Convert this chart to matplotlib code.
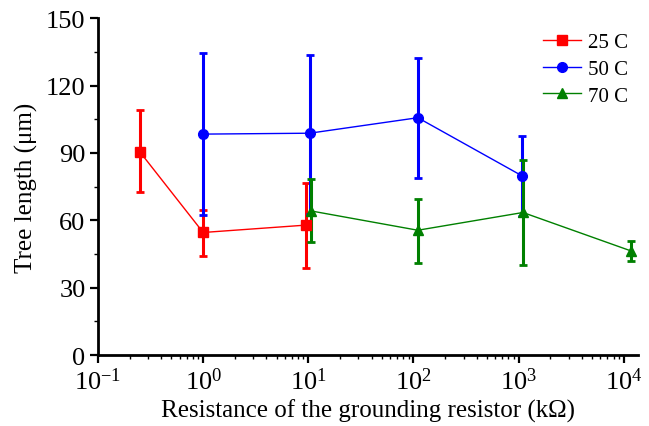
import matplotlib
matplotlib.use("Agg")
import matplotlib.pyplot as plt
from matplotlib.lines import Line2D
from matplotlib.ticker import LogLocator, MultipleLocator, NullFormatter

plt.rcParams['font.family'] = ['Liberation Serif', 'DejaVu Serif']
plt.rcParams['mathtext.fontset'] = 'custom'
plt.rcParams['mathtext.rm'] = 'Liberation Serif'
plt.rcParams['mathtext.it'] = 'Liberation Serif:italic'

x25 = [0.25, 1.0, 9.6]
y25 = [90.5, 54.6, 57.9]
lo25 = [72.5, 44.2, 38.9]
hi25 = [109.0, 64.7, 76.8]

x50 = [1.0, 10.3, 110.0, 1080.0]
y50 = [98.4, 98.8, 105.7, 79.8]
lo50 = [62.3, 63.0, 78.9, 62.0]
hi50 = [134.7, 133.6, 132.2, 97.6]

x70 = [10.6, 110.0, 1100.0, 11700.0]
y70 = [64.2, 55.6, 63.5, 46.4]
lo70 = [50.4, 41.2, 40.1, 42.0]
hi70 = [78.3, 69.7, 86.8, 50.7]

labels = ['25 C', '50 C', '70 C']

fig = plt.figure(figsize=(6.49, 4.27), dpi=100)
ax = fig.add_axes([0.151, 0.166, 0.832, 0.789])

series = [
    (x25, y25, lo25, hi25, 'red', 's', labels[0]),
    (x50, y50, lo50, hi50, 'blue', 'o', labels[1]),
    (x70, y70, lo70, hi70, 'green', '^', labels[2]),
]
handles = []
for xs, ys, lo, hi, c, m, lab in series:
    yerr = [[y - l for y, l in zip(ys, lo)], [h - y for y, h in zip(ys, hi)]]
    ax.errorbar(xs, ys, yerr=yerr, color=c, marker=m, markersize=7,
                linewidth=1.0, elinewidth=2.2, capsize=3, capthick=2.0)
    handles.append(Line2D([], [], color=c, marker=m, markersize=7,
                          linewidth=1.0, label=lab))

ax.set_xscale('log')
ax.set_xlim(0.1, 10**4.135)
ax.set_ylim(0, 150)
ax.yaxis.set_major_locator(MultipleLocator(30))
ax.yaxis.set_minor_locator(MultipleLocator(15))
ax.xaxis.set_major_locator(LogLocator(base=10, numticks=10))
ax.xaxis.set_minor_locator(LogLocator(base=10, subs=range(2, 10), numticks=20))
ax.xaxis.set_minor_formatter(NullFormatter())

for s in ['top', 'right']:
    ax.spines[s].set_visible(False)
for s in ['left', 'bottom']:
    ax.spines[s].set_linewidth(2.0)
ax.tick_params(which='major', direction='out', length=6, width=1.6, labelsize=19, pad=3)
ax.tick_params(which='minor', direction='out', length=3, width=1.0)

ax.set_xlabel('Resistance of the grounding resistor (k\u03a9)', fontsize=18, labelpad=3)
ax.set_ylabel('Tree length (\u03bcm)', fontsize=18, labelpad=6)

ax.legend(handles=handles, loc='upper right', frameon=False, fontsize=15,
          bbox_to_anchor=(1.005, 0.995), handlelength=1.8, borderaxespad=0.2,
          labelspacing=0.35, handletextpad=0.35)

fig.savefig('out.png', dpi=100)
